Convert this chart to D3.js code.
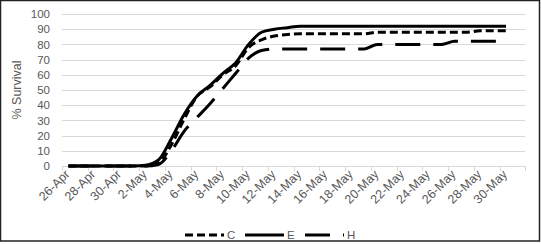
<!DOCTYPE html>
<html>
<head>
<meta charset="utf-8">
<script src="https://cdn.jsdelivr.net/npm/d3@7"></script>
<style>
  body { margin: 0; background: #fff; }
  text { font-family: "Liberation Sans", Arial, sans-serif; fill: #595959; }
</style>
</head>
<body>
<div id="chart"></div>
<script>
var svgWidth = 541;
var svgHeight = 244;

// categories: one per day, 26-Apr .. 31-May
var dates = ["26-Apr","27-Apr","28-Apr","29-Apr","30-Apr","1-May","2-May","3-May","4-May","5-May",
  "6-May","7-May","8-May","9-May","10-May","11-May","12-May","13-May","14-May","15-May",
  "16-May","17-May","18-May","19-May","20-May","21-May","22-May","23-May","24-May","25-May",
  "26-May","27-May","28-May","29-May","30-May","31-May"];

var survivalC = [0,0,0,0,0,0,0,2,14,31,46,52,60,66,78,83,85.5,86.5,87,87,
  87,87,87,87,88,88,88,88,88,88,88,88,89,89,89,null];
var survivalE = [0,0,0,0,0,0,0.5,4,18,34,46,53,61,68,80,88,90,91,92,92,
  92,92,92,92,92,92,92,92,92,92,92,92,92,92,92,null];
var survivalH = [0,0,0,0,0,0,0,1,10,23,32,41,51,61,71,76,77,77,77,77,
  77,77,77,77,80,80,80,80,80,80,82,82,82,82,82,null];

var yTicks = [0,10,20,30,40,50,60,70,80,90,100];

var series = [
  {name: "C", values: survivalC, dash: "8,4"},
  {name: "E", values: survivalE, dash: null},
  {name: "H", values: survivalH, dash: "25,13"}
];

var margin = {top: 14, right: 15.7, bottom: 78, left: 62};
var width = svgWidth - margin.left - margin.right;
var height = svgHeight - margin.top - margin.bottom;

var svg = d3.select("#chart")
  .append("svg")
  .attr("width", svgWidth)
  .attr("height", svgHeight);

var chartGroup = svg.append("g")
  .attr("transform", `translate(${margin.left}, ${margin.top})`);

var xBandScale = d3.scaleBand()
  .domain(dates)
  .range([0, width]);

var yLinearScale = d3.scaleLinear()
  .domain([0, 100])
  .range([height, 0]);

// gridlines
chartGroup.append("g")
  .selectAll("line")
  .data(yTicks.slice(1))
  .enter()
  .append("line")
  .attr("x1", 0)
  .attr("x2", width)
  .attr("y1", d => Math.round(yLinearScale(d)) + 0.5)
  .attr("y2", d => Math.round(yLinearScale(d)) + 0.5)
  .attr("stroke", "#d9d9d9")
  .attr("stroke-width", 1);

// y axis labels
var leftAxis = d3.axisLeft(yLinearScale)
  .tickValues(yTicks)
  .tickSize(0)
  .tickPadding(12);

var yAxisG = chartGroup.append("g").call(leftAxis);
yAxisG.select(".domain").remove();
yAxisG.selectAll("text")
  .attr("font-size", "11.5px")
  .style("fill", "#595959");

// x axis: labels every second day, tick marks on category boundaries
var labelDates = dates.filter((d, i) => i % 2 === 0 && i < 35);

var bottomAxis = d3.axisBottom(xBandScale)
  .tickValues(labelDates)
  .tickSize(0)
  .tickSizeOuter(0);

var xAxisG = chartGroup.append("g")
  .attr("transform", `translate(0, ${height})`)
  .call(bottomAxis);

xAxisG.select(".domain")
  .attr("stroke", "#d9d9d9")
  .attr("stroke-width", 1);

xAxisG.selectAll("text")
  .attr("x", 0)
  .attr("y", 0)
  .attr("dy", 0)
  .attr("text-anchor", "end")
  .attr("transform", "translate(2, 9) rotate(-45)")
  .attr("font-size", "12.5px")
  .style("fill", "#595959");

var tickPos = dates.filter((d, i) => i % 2 === 0).map(d => xBandScale(d)).concat([width]);
chartGroup.append("g")
  .selectAll("line")
  .data(tickPos)
  .enter()
  .append("line")
  .attr("x1", d => Math.round(d) + 0.5)
  .attr("x2", d => Math.round(d) + 0.5)
  .attr("y1", height)
  .attr("y2", height + 5)
  .attr("stroke", "#d9d9d9");

// lines
var line = d3.line()
  .defined(d => d.v !== null)
  .x(d => xBandScale(d.date) + xBandScale.bandwidth() / 2)
  .y(d => yLinearScale(d.v))
  .curve(d3.curveMonotoneX);

chartGroup.append("g")
  .selectAll("path")
  .data(series)
  .enter()
  .append("path")
  .attr("d", s => line(s.values.map((v, i) => ({date: dates[i], v: v}))))
  .attr("fill", "none")
  .attr("stroke", "#000")
  .attr("stroke-width", 3)
  .attr("stroke-dasharray", s => s.dash);

// y axis title
svg.append("text")
  .attr("transform", "translate(21, 90) rotate(-90)")
  .attr("text-anchor", "middle")
  .attr("font-size", "12.5px")
  .text("% Survival");

// legend
var legendX = [185, 245, 305];
var legend = svg.append("g")
  .selectAll("g")
  .data(series)
  .enter()
  .append("g")
  .attr("transform", (d, i) => `translate(${legendX[i]}, 235)`);

legend.append("line")
  .attr("x1", 0)
  .attr("x2", 39)
  .attr("y1", 0)
  .attr("y2", 0)
  .attr("stroke", "#000")
  .attr("stroke-width", 3)
  .attr("stroke-dasharray", d => d.dash);

legend.append("text")
  .attr("x", 42)
  .attr("y", 4)
  .attr("font-size", "11.5px")
  .text(d => d.name);

// outer border
svg.append("rect")
  .attr("x", 0.5)
  .attr("y", 0.5)
  .attr("width", 539)
  .attr("height", 240.5)
  .attr("fill", "none")
  .attr("stroke", "#222")
  .attr("stroke-width", 1.5);
</script>
</body>
</html>
